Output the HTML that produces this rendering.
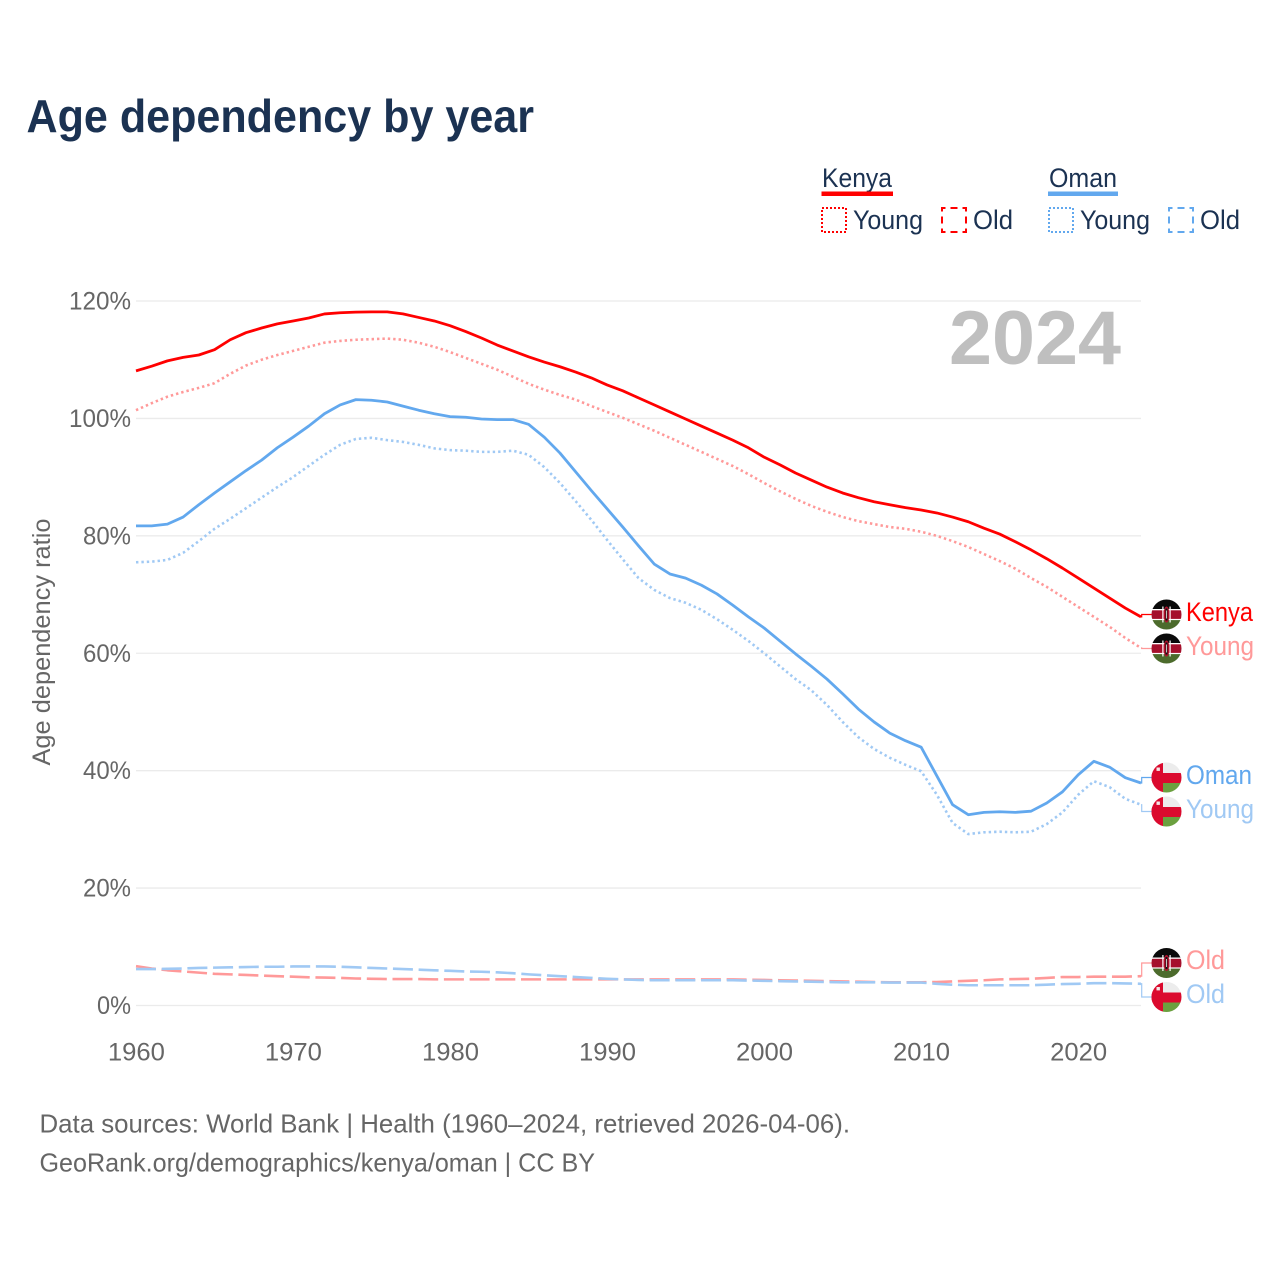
<!DOCTYPE html>
<html lang="en">
<head>
<meta charset="utf-8">
<title>Age dependency by year</title>
<style>
html,body{margin:0;padding:0;background:#fff;width:1280px;height:1280px;overflow:hidden}
svg{display:block;font-family:"Liberation Sans",sans-serif}
</style>
</head>
<body>
<svg id="chart" xmlns="http://www.w3.org/2000/svg" width="1280" height="1280" viewBox="0 0 1280 1280">
<defs>
<clipPath id="flag-clip"><circle cx="0" cy="0" r="15"/></clipPath>
<g id="flag-kenya" clip-path="url(#flag-clip)">
<rect x="-15" y="-15" width="30" height="30" fill="#fff"/>
<rect x="-15" y="-15" width="30" height="9.5" fill="#0a0a0a"/>
<rect x="-15" y="-4.2" width="30" height="8.6" fill="#a5102c"/>
<rect x="-15" y="5.6" width="30" height="9.4" fill="#4c6b2c"/>
<path d="M-3.6-8 L-3.6 8 M3.6-8 L3.6 8" stroke="#fff" stroke-width="1.2"/>
<ellipse cx="0" cy="0" rx="3" ry="8" fill="#b3102c"/>
<rect x="-1" y="-6" width="2" height="12" fill="#111"/>
<rect x="-.4" y="-4" width=".8" height="8" fill="#eee"/>
</g>
<g id="flag-oman" clip-path="url(#flag-clip)">
<rect x="-15" y="-15" width="30" height="30" fill="#ececec"/>
<rect x="-15" y="-15" width="11.5" height="30" fill="#db0a2e"/>
<rect x="-15" y="-4.5" width="30" height="10" fill="#db0a2e"/>
<rect x="-3.5" y="5.5" width="19" height="10" fill="#6ba03f"/>
<rect x="-10" y="-10" width="3.4" height="3.4" fill="#f4e8e8"/>
</g>
</defs>

<text x="26.5" y="132" font-size="46" font-weight="700" fill="#1b3252" textLength="507.5" lengthAdjust="spacingAndGlyphs">Age dependency by year</text>

<g font-size="26.5" fill="#1b3252">
<text x="822" y="187" textLength="70" lengthAdjust="spacingAndGlyphs">Kenya</text>
<rect x="821.5" y="191.5" width="71.5" height="4.5" fill="#ff0000"/>
<rect x="822" y="208" width="24" height="24" fill="none" stroke="#ff0000" stroke-width="2" stroke-dasharray="2 2"/>
<text x="853" y="229" textLength="70" lengthAdjust="spacingAndGlyphs">Young</text>
<rect x="942" y="208" width="24" height="24" fill="none" stroke="#ff0000" stroke-width="2" stroke-dasharray="7 5" stroke-dashoffset="3.5"/>
<text x="973" y="229" textLength="40" lengthAdjust="spacingAndGlyphs">Old</text>
<text x="1049" y="187" textLength="68" lengthAdjust="spacingAndGlyphs">Oman</text>
<rect x="1048" y="191.5" width="70" height="4.5" fill="#62a8ee"/>
<rect x="1049" y="208" width="24" height="24" fill="none" stroke="#62a8ee" stroke-width="2" stroke-dasharray="2 2"/>
<text x="1080" y="229" textLength="70" lengthAdjust="spacingAndGlyphs">Young</text>
<rect x="1169" y="208" width="24" height="24" fill="none" stroke="#62a8ee" stroke-width="2" stroke-dasharray="7 5" stroke-dashoffset="3.5"/>
<text x="1200" y="229" textLength="40" lengthAdjust="spacingAndGlyphs">Old</text>
</g>

<g id="grid"></g>
<g id="y-ticks"></g>
<g id="x-ticks"></g>

<text transform="translate(50,642) rotate(-90)" text-anchor="middle" font-size="25" fill="#666666" textLength="247" lengthAdjust="spacingAndGlyphs">Age dependency ratio</text>

<text x="949" y="364" font-size="76" font-weight="700" fill="#bfbfbf" textLength="172" lengthAdjust="spacingAndGlyphs">2024</text>

<g id="series"></g>
<g id="leaders"></g>

<g>
<use href="#flag-kenya" x="1166.5" y="614.5"/>
<use href="#flag-kenya" x="1166.5" y="648.5"/>
<use href="#flag-oman" x="1166.5" y="777.5"/>
<use href="#flag-oman" x="1166.5" y="811.5"/>
<use href="#flag-kenya" x="1166.5" y="963"/>
<use href="#flag-oman" x="1166.5" y="997"/>
</g>

<g font-size="26.5">
<text x="1186" y="621" fill="#ff0000" textLength="67" lengthAdjust="spacingAndGlyphs">Kenya</text>
<text x="1186" y="655" fill="#ff9999" textLength="68" lengthAdjust="spacingAndGlyphs">Young</text>
<text x="1186" y="784" fill="#62a8ee" textLength="66" lengthAdjust="spacingAndGlyphs">Oman</text>
<text x="1186" y="818" fill="#a0c9f4" textLength="68" lengthAdjust="spacingAndGlyphs">Young</text>
<text x="1186" y="969" fill="#ff9999" textLength="39" lengthAdjust="spacingAndGlyphs">Old</text>
<text x="1186" y="1003" fill="#a0c9f4" textLength="39" lengthAdjust="spacingAndGlyphs">Old</text>
</g>

<g font-size="26" fill="#666666">
<text x="39.5" y="1132.5" textLength="810.5" lengthAdjust="spacingAndGlyphs">Data sources: World Bank | Health (1960–2024, retrieved 2026-04-06).</text>
<text x="39.5" y="1171.5" textLength="555.5" lengthAdjust="spacingAndGlyphs">GeoRank.org/demographics/kenya/oman | CC BY</text>
</g>
</svg>

<script>
const startYear = 1960;
const endYear = 2024;
const yTickValues = [0, 20, 40, 60, 80, 100, 120];
const yTickLabels = ["0%", "20%", "40%", "60%", "80%", "100%", "120%"];
const xTickValues = [1960, 1970, 1980, 1990, 2000, 2010, 2020];
const xTickLabels = ["1960", "1970", "1980", "1990", "2000", "2010", "2020"];

const kenyaTotal = [108.1,108.9,109.8,110.4,110.8,111.7,113.4,114.6,115.4,116.1,116.6,117.1,117.8,118.0,118.1,118.15,118.15,117.8,117.2,116.6,115.8,114.8,113.7,112.5,111.5,110.5,109.6,108.8,107.9,106.9,105.7,104.7,103.5,102.3,101.1,99.9,98.7,97.5,96.3,95.0,93.4,92.1,90.7,89.5,88.3,87.3,86.5,85.8,85.3,84.8,84.4,83.9,83.2,82.4,81.3,80.3,79.0,77.6,76.1,74.5,72.8,71.1,69.4,67.7,66.2];
const kenyaYoung = [101.4,102.6,103.7,104.5,105.2,106.0,107.6,109.0,110.0,110.8,111.5,112.2,112.9,113.2,113.4,113.5,113.6,113.4,112.9,112.2,111.3,110.3,109.3,108.3,107.1,105.9,104.9,104.0,103.2,102.1,101.1,100.1,99.0,97.9,96.7,95.5,94.3,93.1,91.9,90.5,89.0,87.6,86.3,85.1,84.1,83.2,82.5,82.0,81.5,81.2,80.7,80.0,79.1,78.1,76.9,75.7,74.4,72.8,71.3,69.6,67.9,66.2,64.5,62.6,60.9];
const kenyaOld = [6.7,6.3,6.0,5.8,5.6,5.4,5.3,5.2,5.1,5.0,4.9,4.8,4.75,4.7,4.6,4.55,4.5,4.5,4.5,4.45,4.45,4.45,4.45,4.45,4.45,4.45,4.45,4.45,4.45,4.45,4.45,4.45,4.45,4.45,4.45,4.45,4.45,4.45,4.45,4.4,4.35,4.3,4.25,4.2,4.15,4.1,4.05,4.0,3.95,3.95,3.95,4.0,4.1,4.2,4.3,4.45,4.5,4.55,4.7,4.85,4.85,4.9,4.9,4.9,5.0];
const omanTotal = [81.7,81.7,82.0,83.2,85.3,87.3,89.2,91.1,92.9,95.0,96.8,98.7,100.8,102.3,103.2,103.1,102.8,102.1,101.4,100.8,100.3,100.2,99.9,99.8,99.8,99.0,96.8,94.1,90.9,87.7,84.6,81.5,78.3,75.2,73.5,72.8,71.6,70.1,68.2,66.2,64.3,62.1,59.9,57.8,55.6,53.1,50.5,48.3,46.4,45.1,44.0,39.1,34.2,32.5,32.9,33.0,32.9,33.1,34.5,36.4,39.3,41.6,40.6,38.8,37.9];
const omanYoung = [75.5,75.6,75.9,77.1,79.1,81.2,82.9,84.7,86.5,88.3,90.0,91.9,93.8,95.5,96.5,96.7,96.3,96.0,95.5,94.9,94.6,94.5,94.3,94.3,94.5,93.8,91.7,89.0,85.9,82.7,79.3,76.0,72.8,70.8,69.4,68.6,67.4,65.8,64.0,62.1,60.0,57.8,55.6,53.7,51.2,48.3,45.7,43.7,42.2,41.0,39.9,35.9,31.1,29.2,29.5,29.6,29.5,29.6,30.9,32.9,35.9,38.2,37.2,35.2,34.2];
const omanOld = [6.2,6.2,6.25,6.3,6.4,6.45,6.5,6.55,6.6,6.6,6.65,6.65,6.65,6.6,6.5,6.4,6.3,6.2,6.1,6.0,5.9,5.8,5.75,5.65,5.5,5.3,5.15,5.0,4.85,4.7,4.55,4.45,4.35,4.3,4.3,4.3,4.3,4.3,4.3,4.25,4.2,4.15,4.1,4.05,4.0,3.95,3.95,3.95,3.9,3.9,3.9,3.7,3.55,3.45,3.45,3.45,3.45,3.45,3.55,3.65,3.7,3.8,3.8,3.75,3.7];

const SVGNS = "http://www.w3.org/2000/svg";
const plotLeft = 136, plotRight = 1141, plotBottom = 1005.5, plotTop = 301;

function xScale(year) {
  return plotLeft + (year - startYear) * (plotRight - plotLeft) / (endYear - startYear);
}
function yScale(value) {
  return plotBottom - value * (plotBottom - plotTop) / 120;
}
function make(tag, parent, attrs) {
  const el = document.createElementNS(SVGNS, tag);
  for (const k in attrs) el.setAttribute(k, attrs[k]);
  parent.appendChild(el);
  return el;
}

const gridG = document.getElementById("grid");
const yG = document.getElementById("y-ticks");
const xG = document.getElementById("x-ticks");

yTickValues.forEach(function (v, i) {
  const line = make("line", gridG, {x1: plotLeft, x2: plotRight, y1: yScale(v), y2: yScale(v), stroke: "#ebebeb", "stroke-width": 1.3});
  
  
  const label = yTickLabels[i];
  const t = make("text", yG, {x: 131, y: yScale(v) + 8.5, "text-anchor": "end", "font-size": 25, fill: "#666666", textLength: 14 * label.length + 6, lengthAdjust: "spacingAndGlyphs"});
  t.textContent = label;
  
  
});

xTickValues.forEach(function (v, i) {
  const t = make("text", xG, {x: xScale(v) + 0.4, y: 1060.5, "text-anchor": "middle", "font-size": 25, fill: "#666666", textLength: 57, lengthAdjust: "spacingAndGlyphs"});
  t.textContent = xTickLabels[i];
  
  
});

function linePath(values) {
  return values.map(function (v, i) {
    return (i ? "L" : "M") + xScale(startYear + i).toFixed(2) + " " + yScale(v).toFixed(2);
  }).join(" ");
}

const seriesG = document.getElementById("series");
const leadersG = document.getElementById("leaders");

function drawSeries(values, color, width, dash, name) {
  const p = make("path", seriesG, {d: linePath(values), fill: "none", stroke: color, "stroke-width": width, "stroke-linejoin": "round"});
  if (dash) p.setAttribute("stroke-dasharray", dash);
  
  
}

function drawLeader(values, labelY, color, name) {
  const ex = xScale(endYear), ey = yScale(values[values.length - 1]);
  const p = make("path", leadersG, {d: "M" + ex + " " + ey + " L" + (ex + 0.7) + " " + ey + " L" + (ex + 0.7) + " " + labelY + " L1152 " + labelY, fill: "none", stroke: color, "stroke-width": 1.2});
  
  
}

drawSeries(kenyaOld, "#ff9999", 2.6, "20 5.7", "line-kenya-old");
drawSeries(omanOld, "#a0c9f4", 2.6, "20 5.7", "line-oman-old");
drawSeries(kenyaYoung, "#ff9999", 2.6, "2.4 3", "line-kenya-young");
drawSeries(omanYoung, "#a0c9f4", 2.6, "2.4 3", "line-oman-young");
drawSeries(kenyaTotal, "#ff0000", 2.8, "", "line-kenya-total");
drawSeries(omanTotal, "#62a8ee", 2.8, "", "line-oman-total");

drawLeader(kenyaTotal, 614.5, "#ff0000", "leader-kenya-total");
drawLeader(kenyaYoung, 648.5, "#ff9999", "leader-kenya-young");
drawLeader(omanTotal, 777.5, "#62a8ee", "leader-oman-total");
drawLeader(omanYoung, 811.5, "#a0c9f4", "leader-oman-young");
drawLeader(kenyaOld, 963, "#ff9999", "leader-kenya-old");
drawLeader(omanOld, 997, "#a0c9f4", "leader-oman-old");
</script>
</body>
</html>
